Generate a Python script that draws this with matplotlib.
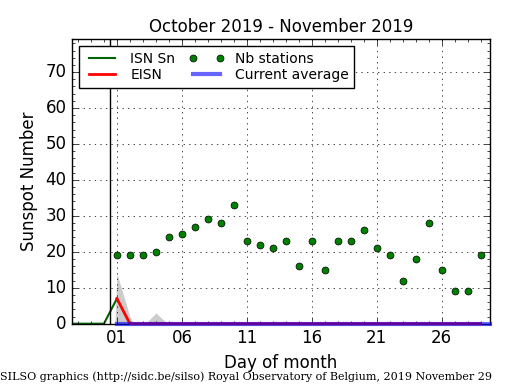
import numpy as np
import matplotlib
matplotlib.use('Agg')
import matplotlib.pyplot as plt
from matplotlib.ticker import MultipleLocator

plt.style.use('classic')

# days relative to November (Nov 1 = 1, Oct 31 = 0, ...)
isn_days = [-3, -2, -1, 0, 1]
isn_vals = [0, 0, 0, 0, 7]

eisn_days = list(range(1, 30))
eisn_vals = [7] + [0] * 28

err_days = [0.85, 1, 2, 2.3, 3.2, 4, 4.9]
err_lo = [0, 0, 0, 0, 0, 0, 0]
err_hi = [0, 14, 2, 0, 0, 3, 0]

st_days = list(range(1, 30))
stations = [19, 19, 19, 20, 24, 25, 27, 29, 28, 33, 23, 22, 21, 23, 16,
            23, 15, 23, 23, 26, 21, 19, 12, 18, 28, 15, 9, 9, 19]

avg_days = [1, 29.7]
avg_vals = [0, 0]

tick_pos = [1, 6, 11, 16, 21, 26]
tick_lab = ['01', '06', '11', '16', '21', '26']

fig = plt.figure(figsize=(5.15, 3.9), dpi=100, facecolor='white')
ax = fig.add_axes([0.140, 0.170, 0.811, 0.730])

ax.fill_between(err_days, err_lo, err_hi, color='#cccccc', lw=0, zorder=1)
ax.plot(isn_days, isn_vals, color='darkgreen', lw=1.5, label='ISN Sn', zorder=2)
ax.plot(eisn_days, eisn_vals, color='red', lw=2, label='EISN', zorder=3,
        clip_on=False)
ax.plot(st_days, stations, 'o', color='green', mec='black', mew=0.5, ms=5,
        label='Nb stations', zorder=3)
ax.plot(avg_days, avg_vals, color='blue', alpha=0.6, lw=3,
        label='Current average', zorder=4, clip_on=False)
ax.axvline(0.5, color='black', lw=1)

ax.set_xlim(-2.45, 29.7)
ax.set_ylim(0, 79.2)
ax.set_xticks(tick_pos)
ax.set_xticklabels(tick_lab)
ax.xaxis.set_minor_locator(MultipleLocator(1))
ax.yaxis.set_major_locator(MultipleLocator(10))
ax.yaxis.set_minor_locator(MultipleLocator(2))
ax.grid(True, which='major', color='black', linestyle=':')

ax.set_title('October 2019 - November 2019', fontsize=12)
ax.set_xlabel('Day of month', fontsize=12)
ax.set_ylabel('Sunspot Number', fontsize=12)
ax.tick_params(labelsize=12)

ax.legend(loc='upper left', ncol=2, fontsize=10, numpoints=2,
          borderaxespad=0.5, handlelength=2.5, columnspacing=1.0,
          labelspacing=0.2, fancybox=False)

fig.text(0.0, 0.025, 'SILSO graphics (http://sidc.be/silso) Royal Observatory of Belgium, 2019 November 29',
         family='serif', fontsize=8)

fig.savefig('out.png', dpi=100, facecolor='white')
